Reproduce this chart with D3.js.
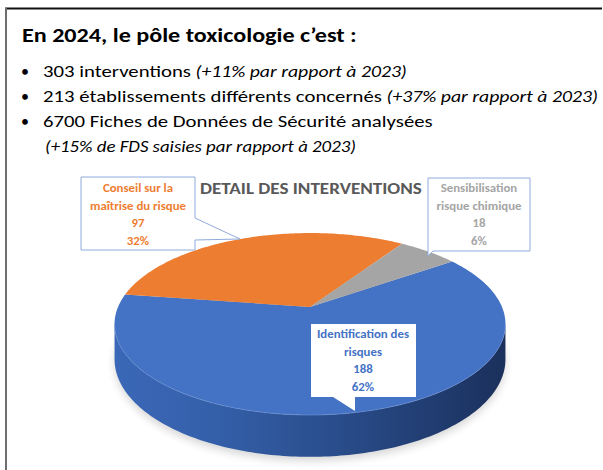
<!DOCTYPE html>
<html>
<head>
<meta charset="utf-8">
<script src="https://cdn.jsdelivr.net/npm/d3@7/dist/d3.min.js"></script>
<style>
  html, body { margin: 0; padding: 0; background: #fff; }
  svg { display: block; }
  text { font-family: Carlito, Lato, "Open Sans", sans-serif; white-space: pre; }
</style>
</head>
<body>
<svg id="chart" width="603" height="470"></svg>
<script>
// ---- Content -------------------------------------------------------------
const headline = "En 2024, le pôle toxicologie c’est :";
const bulletText = [
  "303 interventions",
  "213 établissements différents concernés",
  "6700 Fiches de Données de Sécurité analysées"
];
const bulletNote = [
  "(+11% par rapport à 2023)",
  "(+37% par rapport à 2023)",
  "(+15% de FDS saisies par rapport à 2023)"
];
const chartTitle = "DETAIL DES INTERVENTIONS";

// Pie data (drawing order, clockwise)
const categories = ["Identification des risques", "Conseil sur la maîtrise du risque", "Sensibilisation risque chimique"];
const labelLines = [["Identification des", "risques"], ["Conseil sur la", "maîtrise du risque"], ["Sensibilisation", "risque chimique"]];
const counts = [188, 97, 18];
const colors = ["#4472C4", "#ED7D31", "#A5A5A5"];

// ---- Setup ---------------------------------------------------------------
const svg = d3.select("#chart");
const defs = svg.append("defs");

// frame (top and left rules of the slide box)
svg.append("line").attr("x1", 5).attr("x2", 602).attr("y1", 8.5).attr("y2", 8.5)
  .attr("stroke", "#111").attr("stroke-width", 2);
svg.append("line").attr("x1", 6).attr("x2", 6).attr("y1", 8).attr("y2", 470)
  .attr("stroke", "#6e6e6e").attr("stroke-width", 2);

// Squeeze a text element horizontally (around ox) so it spans the given width
function fitX(sel, target, ox, sx) {
  if (sx === undefined) sx = target / sel.node().getBBox().width;
  sel.attr("transform", `translate(${ox},0) scale(${sx},1) translate(${-ox},0)`);
  return sx;
}

// ---- Header --------------------------------------------------------------
const head = svg.append("text").attr("x", 22).attr("y", 42)
  .attr("font-size", 20.5).attr("font-weight", 700).attr("fill", "#000")
  .text(headline);
fitX(head, 335, 22);

const bulletBase = [77, 102, 127];
const bulletLines = [];
bulletText.forEach((t, i) => {
  svg.append("text").attr("x", 21).attr("y", bulletBase[i]).attr("font-size", 16)
    .attr("fill", "#000").text("•");
  const line = svg.append("text").attr("x", 43).attr("y", bulletBase[i])
    .attr("font-size", 17).attr("fill", "#000");
  line.append("tspan").text(t);
  if (i < 2) {
    line.append("tspan").attr("font-style", "italic").attr("font-size", "0.95em").text(" " + bulletNote[i]);
  }
  bulletLines.push(line);
});
// all bullet lines share the squeeze that fits the longest one to the frame
const bsx = fitX(bulletLines[1], 555, 43);
bulletLines.forEach(l => fitX(l, null, 43, bsx));
const note3 = svg.append("text").attr("x", 45).attr("y", 152).attr("font-size", 17 * 0.95)
  .attr("font-style", "italic").attr("fill", "#000").text(bulletNote[2]);
fitX(note3, 311, 45);

// ---- 3D pie --------------------------------------------------------------
const cx = 310, cy = 307, R = 192, ry = 87.8, k = 0.187, depth = 34;
// perspective projection of a point on the disc rim (t: angle, h: 0 top, 1 bottom)
function proj(t, h = 0) {
  const X = Math.cos(t), Z = Math.sin(t);
  const s = 1 / (1 - k * Z);
  return [cx + R * X * s, cy + ry * Z * s + h * depth * s];
}
const deg = Math.PI / 180;
const pie = d3.pie().sort(null).value(d => d)
  .startAngle(55 * deg).endAngle(415 * deg);
const arcs = pie(counts);
const total = d3.sum(counts);

function rimPoints(a0, a1, h) {
  const n = Math.max(2, Math.ceil(Math.abs(a1 - a0) / deg));
  return d3.range(n + 1).map(i => proj(a0 + (a1 - a0) * i / n, h));
}

// soft shadow under the disc
defs.append("filter").attr("id", "soft").attr("x", "-20%").attr("y", "-20%")
  .attr("width", "140%").attr("height", "140%")
  .append("feGaussianBlur").attr("stdDeviation", 4);
const shadowPts = rimPoints(0, 2 * Math.PI, 1).map(p => [p[0], p[1] + 4]);
svg.append("path").attr("d", d3.line()(shadowPts) + "Z")
  .attr("fill", "#000").attr("opacity", 0.16).attr("filter", "url(#soft)");

// side wall (only the front rim is visible, fully covered by the first slice)
const sideGrad = defs.append("linearGradient").attr("id", "sideGrad")
  .attr("gradientUnits", "userSpaceOnUse").attr("x1", 114).attr("x2", 505).attr("y1", 0).attr("y2", 0);
[[0, "#3b67b8"], [0.25, "#3460aa"], [0.5, "#2c5192"], [0.75, "#234178"], [1, "#1b305c"]]
  .forEach(([o, c]) => sideGrad.append("stop").attr("offset", o).attr("stop-color", c));
const t0 = Math.asin(k), t1 = Math.PI - t0;
const sidePts = rimPoints(t0, t1, 0).concat(rimPoints(t1, t0, 1));
svg.append("path").attr("d", d3.line()(sidePts) + "Z").attr("fill", "url(#sideGrad)");

// top faces
svg.append("g").selectAll("path").data(arcs).join("path")
  .attr("d", d => {
    const a0 = d.startAngle - Math.PI / 2, a1 = d.endAngle - Math.PI / 2;
    return d3.line()([[cx, cy]].concat(rimPoints(a0, a1, 0))) + "Z";
  })
  .attr("fill", (d, i) => colors[i]);

// light rim along the front edge of the top face
svg.append("path").attr("d", d3.line()(rimPoints(t0, t1, 0)))
  .attr("fill", "none").attr("stroke", "#6f95d8").attr("stroke-width", 1).attr("opacity", 0.6);

// ---- Chart title ---------------------------------------------------------
const ct = svg.append("text").attr("x", 200).attr("y", 194).attr("font-size", 15.5)
  .attr("font-weight", 700).attr("fill", "#595959").text(chartTitle);
fitX(ct, 222, 200);

// ---- Data callouts -------------------------------------------------------
const callouts = [
  { box: [311, 324, 416, 397], ptr: "M333,397 L355,411 L355,397", lx: 363, ly: 338, textW: 99 },
  { shape: "M81,177 H195 V218 L240,239 L195,240 V250 H81 Z", stroke: "#8FAADC", lx: 138, ly: 192, textW: 105 },
  { shape: "M428,178 H530 V251 H433 L428,256 Z", stroke: "#8FAADC", lx: 479, ly: 192, textW: 87 }
];
const lineGap = 17.5;
const labelG = svg.append("g");
arcs.forEach((d, i) => {
  const c = callouts[i];
  if (c.shape) {
    labelG.append("path").attr("d", c.shape).attr("fill", "#fff")
      .attr("stroke", c.stroke).attr("stroke-width", 1);
  } else {
    const [x0, y0, x1, y1] = c.box;
    labelG.append("rect").attr("x", x0).attr("y", y0).attr("width", x1 - x0).attr("height", y1 - y0).attr("fill", "#fff");
    labelG.append("path").attr("d", c.ptr + "Z").attr("fill", "#fff");
  }
  const lines = labelLines[i].concat([String(d.data), Math.round(100 * d.data / total) + "%"]);
  const txt = labelG.append("text").attr("text-anchor", "middle").attr("font-size", 12.8)
    .attr("font-weight", 700).attr("fill", colors[i]);
  lines.forEach((s, j) => {
    txt.append("tspan").attr("x", c.lx).attr("y", c.ly + j * lineGap).text(s);
  });
  // squeeze so the widest line spans the box text width
  const widest = d3.max(txt.selectAll("tspan").nodes(), n => n.getComputedTextLength());
  fitX(txt, null, c.lx, Math.min(1, c.textW / widest));
});
</script>
</body>
</html>
